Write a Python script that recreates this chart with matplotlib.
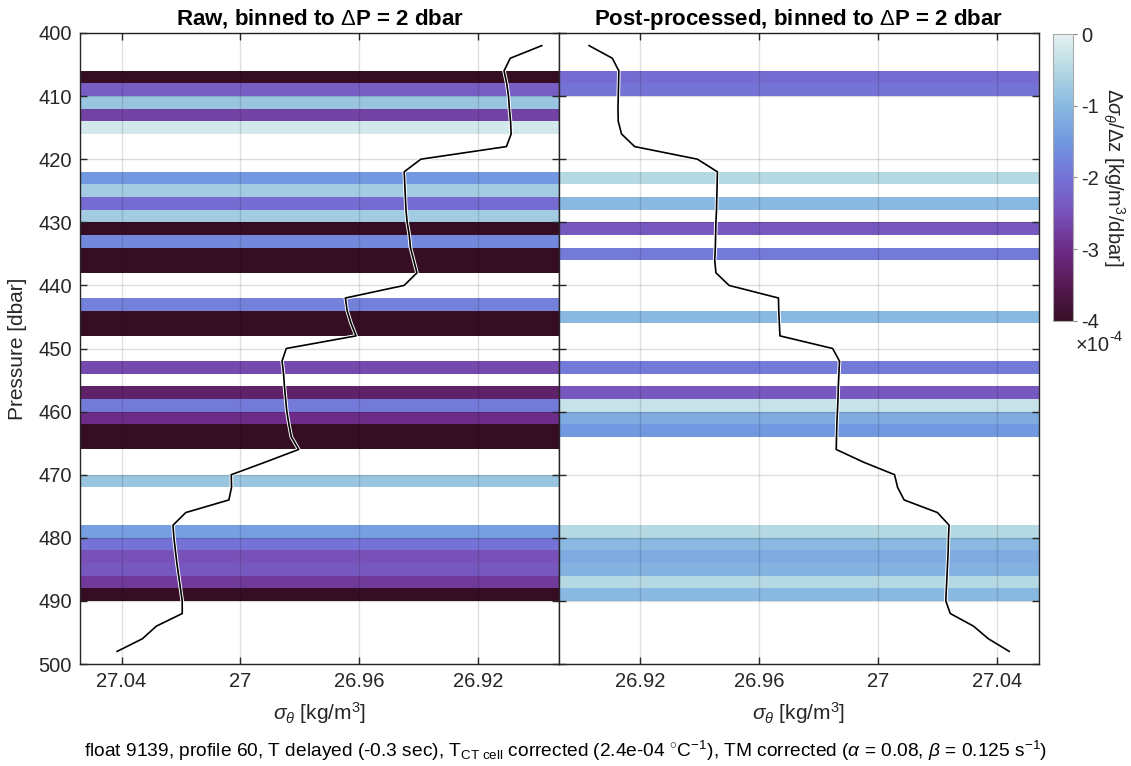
import numpy as np
import matplotlib
matplotlib.use("Agg")
import matplotlib.pyplot as plt
from matplotlib.colors import LinearSegmentedColormap
from matplotlib.ticker import FormatStrFormatter

plt.rcParams['font.family'] = ['Liberation Sans', 'DejaVu Sans']
plt.rcParams['mathtext.fontset'] = 'custom'
plt.rcParams['mathtext.rm'] = 'Liberation Sans'
plt.rcParams['mathtext.it'] = 'Liberation Sans:italic'
plt.rcParams['mathtext.bf'] = 'Liberation Sans:bold'
plt.rcParams['axes.unicode_minus'] = False

# ---- data ---------------------------------------------------------------
# 2-dbar pressure bins (edges) and binned d(sigma)/dz in units of 1e-4 kg/m^3/dbar
bin_edges = np.arange(400, 502, 2)
nan = np.nan
raw_grad_e4 = [nan, nan, nan, -4.3, -2.3, -0.8, -2.7, -0.2, nan, nan,
               nan, -1.5, -0.7, -2.1, -0.7, -4.3, -1.7, -4.3, -4.3, nan,
               nan, -1.8, -4.3, -4.3, nan, nan, -2.6, nan, -3.3, -1.9,
               -3.0, -4.3, -4.3, nan, nan, -0.8, nan, nan, nan, -1.4,
               -2.0, -2.5, -2.4, -2.8, -4.3, nan, nan, nan, nan, nan]
post_grad_e4 = [nan, nan, nan, -2.1, -2.0, nan, nan, nan, nan, nan,
                nan, -0.5, nan, -1.0, nan, -2.4, nan, -1.9, nan, nan,
                nan, nan, -1.0, nan, nan, nan, -1.9, nan, -2.4, -0.3,
                -1.2, -1.5, nan, nan, nan, nan, nan, nan, nan, -0.5,
                -1.0, -1.2, -1.1, -0.5, -1.0, nan, nan, nan, nan, nan]

# sigma_theta profiles at 2-dbar spacing
prof_pres = np.arange(402, 500, 2)
raw_sigma = [26.8986, 26.9092, 26.9113, 26.9104, 26.9098, 26.9095, 26.9091, 26.9089,
             26.9105, 26.9393, 26.9449, 26.9447, 26.9445, 26.9443, 26.9439, 26.9432,
             26.9428, 26.9417, 26.9406, 26.9449, 26.9647, 26.9641, 26.9628, 26.9611,
             26.9846, 26.9860, 26.9855, 26.9852, 26.9848, 26.9844, 26.9837, 26.9829,
             26.9804, 26.9916, 27.0031, 27.0030, 27.0039, 27.0184, 27.0227, 27.0224,
             27.0219, 27.0214, 27.0208, 27.0202, 27.0196, 27.0196, 27.0283, 27.0330,
             27.0415]
post_sigma = [26.9029, 26.9107, 26.9129, 26.9128, 26.9127, 26.9126, 26.9127, 26.9138,
              26.9182, 26.9393, 26.9460, 26.9459, 26.9458, 26.9457, 26.9455, 26.9454,
              26.9453, 26.9451, 26.9455, 26.9499, 26.9665, 26.9666, 26.9668, 26.9670,
              26.9847, 26.9870, 26.9868, 26.9866, 26.9865, 26.9863, 26.9861, 26.9860,
              26.9859, 26.9950, 27.0055, 27.0065, 27.0087, 27.0199, 27.0238, 27.0236,
              27.0235, 27.0233, 27.0231, 27.0229, 27.0227, 27.0242, 27.0320, 27.0370,
              27.0440]

xticks = [26.92, 26.96, 27.0, 27.04]
yticks = np.arange(400, 501, 10)
cbar_ticks = [0, -1, -2, -3, -4]
titles = ["Raw, binned to $\\Delta$P = 2 dbar",
          "Post-processed, binned to $\\Delta$P = 2 dbar"]
caption = ("float 9139, profile 60, T delayed (-0.3 sec), T$_{\\rm CT\\ cell}$ corrected "
           "(2.4e-04 $^{\\circ}$C$^{-1}$), TM corrected ($\\alpha$ = 0.08, $\\beta$ = 0.125 s$^{-1}$)")

# ---- colormap (light -> blue -> purple -> dark) ---------------------------
dense_r = LinearSegmentedColormap.from_list(
    "dense_r",
    [(0.000, "#360e24"), (0.125, "#571a54"), (0.250, "#6c2c88"),
     (0.375, "#7851b8"), (0.500, "#7572d6"), (0.625, "#7197e0"),
     (0.750, "#88b8e0"), (0.875, "#b4d8e3"), (1.000, "#e6f1f1")], N=256)
dense_r.set_bad((1, 1, 1, 0))

W, H = 1131, 766
fig = plt.figure(figsize=(W / 100, H / 100), dpi=100)

def fx(px):
    return px / W

def fy(py):
    return 1 - py / H

ax_top, ax_bot = 33, 664
ax1 = fig.add_axes([fx(80), fy(ax_bot), fx(559 - 80), fy(ax_top) - fy(ax_bot)])
ax2 = fig.add_axes([fx(559), fy(ax_bot), fx(1039 - 559), fy(ax_top) - fy(ax_bot)])
cax = fig.add_axes([fx(1053), fy(321), fx(20), fy(34) - fy(321)])

xlo, xhi = 26.8928, 27.054
dark = "#262626"

for ax, grad, sig, title, reverse in [(ax1, raw_grad_e4, raw_sigma, titles[0], True),
                                      (ax2, post_grad_e4, post_sigma, titles[1], False)]:
    C = np.ma.masked_invalid(np.array(grad, dtype=float)).reshape(-1, 1)
    mesh = ax.pcolormesh([xlo, xhi], bin_edges, C, cmap=dense_r, vmin=-4, vmax=0,
                         shading='flat', zorder=1)
    ax.plot(sig, prof_pres, color='white', lw=2.6, zorder=3, solid_joinstyle='round')
    ax.plot(sig, prof_pres, color='black', lw=1.2, zorder=4, solid_joinstyle='round')
    ax.set_ylim(500, 400)
    if reverse:
        ax.set_xlim(xhi, xlo)
    else:
        ax.set_xlim(xlo, xhi)
    ax.set_xticks(xticks)
    ax.xaxis.set_major_formatter(FormatStrFormatter('%g'))
    ax.set_yticks(yticks)
    ax.grid(True, color='black', alpha=0.13, lw=1.0)
    ax.set_axisbelow(False)
    ax.tick_params(direction='in', top=True, right=True, length=5, width=1.0,
                   color=dark, labelcolor=dark, labelsize=14.5, pad=6)
    for s in ax.spines.values():
        s.set_color(dark)
        s.set_linewidth(1.0)
    ax.set_title(title, fontsize=16, fontweight='bold', pad=6)
    ax.set_xlabel("$\\sigma_\\theta$ [kg/m$^3$]", fontsize=15, color=dark, labelpad=6)

ax1.set_ylabel("Pressure [dbar]", fontsize=15, color=dark, labelpad=8)
ax2.tick_params(labelleft=False)

cb = fig.colorbar(mesh, cax=cax, ticks=cbar_ticks)
cb.ax.tick_params(direction='out', length=3, width=0.8, color='#888888',
                  labelsize=14.5, labelcolor=dark, pad=3)
cb.ax.set_yticklabels([str(t) for t in cbar_ticks])
cb.outline.set_edgecolor('#aaaaaa')
cb.outline.set_linewidth(0.8)
cb.set_label("$\\Delta\\sigma_\\theta$/$\\Delta$z [kg/m$^3$/dbar]", rotation=270,
             fontsize=14.5, color=dark, labelpad=20)
# colorbar scale factor: "x10" with a raised "-4"
fig.text(fx(1076), fy(346), "\u00d710", fontsize=14.5, color=dark,
         ha='left', va='center')
fig.text(fx(1109), fy(337), "-4", fontsize=10.5, color=dark,
         ha='left', va='center')

fig.text(0.5, fy(751), caption, fontsize=13.8, color='black', ha='center', va='center')

fig.savefig("out.png", dpi=100)
